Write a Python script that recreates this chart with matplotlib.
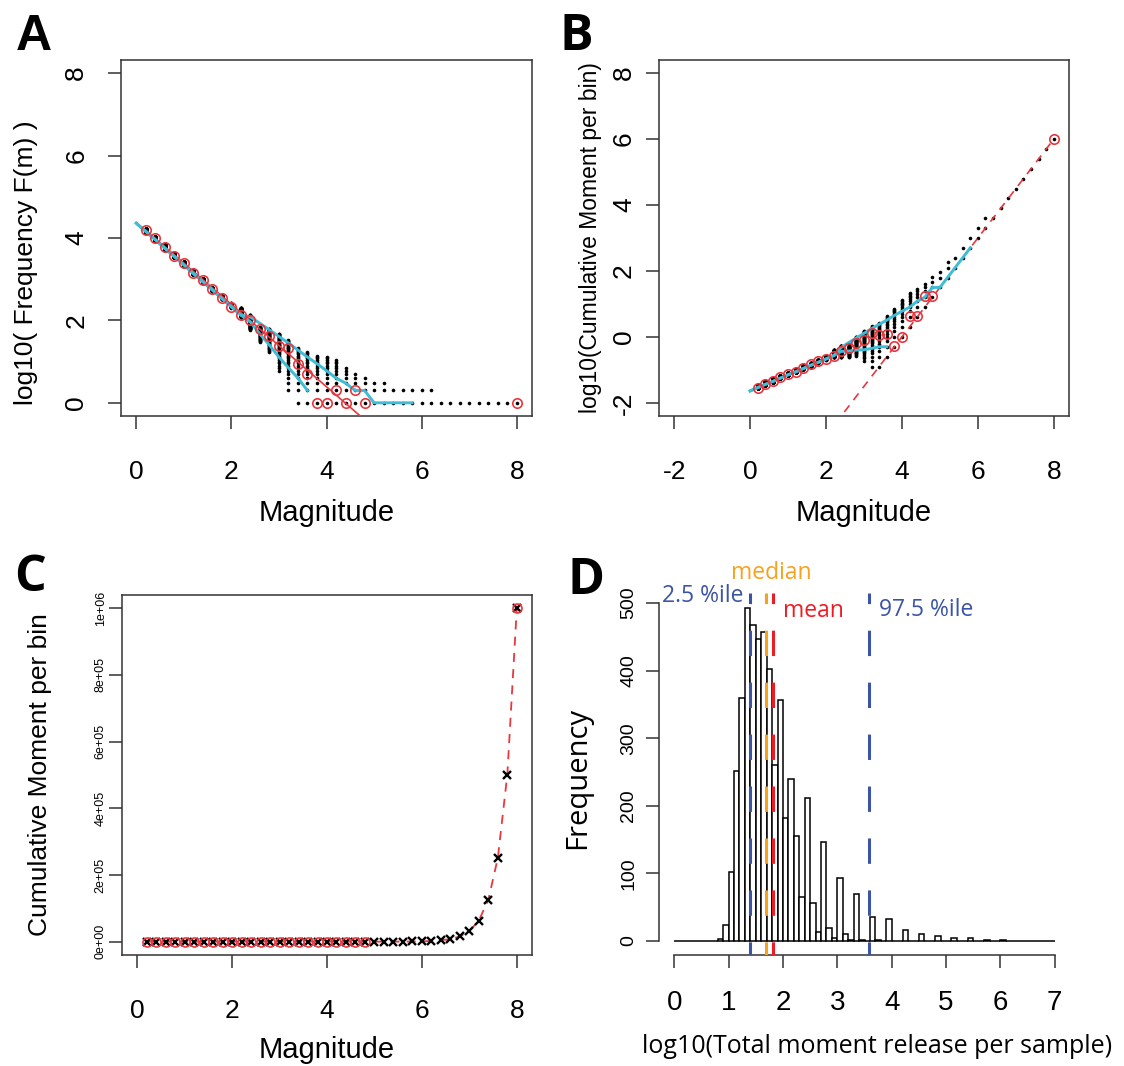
import numpy as np
import matplotlib
matplotlib.use("Agg")
import matplotlib.pyplot as plt

plt.rcParams['font.family'] = ['Liberation Sans', 'DejaVu Sans']
plt.rcParams['axes.unicode_minus'] = False

W, H = 1124, 1066

# ---------------- data ----------------
# observed magnitude bins (red circles), panels A/B/C
obs_mag = [0.2, 0.4, 0.6, 0.8, 1.0, 1.2, 1.4, 1.6, 1.8, 2.0, 2.2, 2.4,
           2.6, 2.8, 3.0, 3.2, 3.4, 3.6, 3.8, 4.0, 4.2, 4.4, 4.6, 4.8, 8.0]
obs_logfreq = [4.19, 3.99, 3.77, 3.57, 3.39, 3.16, 2.97, 2.77, 2.55, 2.33, 2.12, 2.00,
               1.78, 1.62, 1.38, 1.34, 0.95, 0.70, 0.0, 0.0, 0.30, 0.0, 0.30, 0.0, 0.0]
obs_logmoment = [-1.56, -1.44, -1.33, -1.22, -1.13, -1.05, -0.93, -0.83, -0.73, -0.67, -0.57, -0.44,
                 -0.34, -0.19, -0.09, 0.11, 0.06, 0.09, -0.29, 0.01, 0.62, 0.62, 1.23, 1.23, 6.0]

# simulated catalogues: range of counts seen in each magnitude bin (black dots)
sim_mag = [0.2, 0.4, 0.6, 0.8, 1.0, 1.2, 1.4, 1.6, 1.8, 2.0, 2.2, 2.4, 2.6, 2.8,
           3.0, 3.2, 3.4, 3.6, 3.8, 4.0, 4.2, 4.4, 4.6, 4.8, 5.0, 5.2, 5.4, 5.6,
           5.8, 6.0, 6.2, 6.4, 6.6, 6.8, 7.0, 7.2, 7.4, 7.6, 7.8, 8.0]
sim_cmin = [14200, 8900, 5500, 3460, 2140, 1350, 850, 525, 330, 205, 120, 60, 30, 17,
            6, 2, 1, 1, 1, 1, 1, 1, 1, 1, 1, 1, 1, 1,
            1, 1, 1, 1, 1, 1, 1, 1, 1, 1, 1, 1]
sim_cmax = [17000, 10700, 6600, 4170, 2570, 1620, 1020, 630, 400, 260, 200, 135, 69, 63,
            48, 33, 21, 17, 14, 13, 11, 7, 5, 4, 3, 3, 2, 2,
            2, 2, 2, 1, 1, 1, 1, 1, 1, 1, 1, 1]

# fitted lines (red)
fitA_mag = [0.2, 8.0]
fitA_y = [4.19, -3.61]
fitB_mag = [2.0, 8.0]
fitB_y = [-3.0, 6.0]

# 2.5 / 97.5 % envelopes (cyan)
envA_lo_mag = [0.0, 0.2, 0.4, 0.6, 0.8, 1.0, 1.2, 1.4, 1.6, 1.8, 2.0, 2.2,
               2.4, 2.6, 2.8, 3.0, 3.2, 3.4, 3.6]
envA_lo = [4.36, 4.16, 3.96, 3.75, 3.55, 3.35, 3.14, 2.94, 2.74, 2.53, 2.33, 2.13,
           1.96, 1.67, 1.40, 1.11, 0.85, 0.60, 0.30]
envA_hi_mag = [0.0, 0.2, 0.4, 0.6, 0.8, 1.0, 1.2, 1.4, 1.6, 1.8, 2.0, 2.2,
               2.4, 2.6, 2.8, 3.0, 3.2, 3.4, 3.6, 3.8, 4.0, 4.2, 4.4, 4.6,
               4.8, 5.0, 5.2, 5.4, 5.6, 5.8]
envA_hi = [4.36, 4.16, 3.96, 3.75, 3.55, 3.35, 3.14, 2.94, 2.74, 2.53, 2.33, 2.13,
           2.08, 1.93, 1.77, 1.61, 1.45, 1.28, 1.11, 0.95, 0.78, 0.60, 0.48, 0.30,
           0.30, 0.0, 0.0, 0.0, 0.0, 0.0]
envB_lo = [-1.64, -1.54, -1.44, -1.35, -1.25, -1.15, -1.06, -0.96, -0.86, -0.77, -0.67, -0.57,
           -0.44, -0.43, -0.40, -0.39, -0.35, -0.30, -0.30]
envB_hi = [-1.64, -1.54, -1.44, -1.35, -1.25, -1.15, -1.06, -0.96, -0.86, -0.77, -0.67, -0.57,
           -0.32, -0.17, -0.03, 0.11, 0.25, 0.38, 0.51, 0.65, 0.78, 0.90, 1.08, 1.20,
           1.50, 1.50, 1.80, 2.10, 2.40, 2.70]

# panel C: moment of one event per bin (black x)
C_mag = sim_mag
C_moment = [0, 0, 0, 0, 0, 0, 0, 0, 0, 0, 0, 0, 0, 0,
            0, 0, 0, 0, 0, 0, 0, 0, 0, 16, 32, 63, 126, 251,
            501, 1000, 1995, 3981, 7943, 15849, 31623, 63096, 125893, 251189, 501187, 1000000]

# panel D: histogram of log10 total moment, bins of 0.1 from 0 to 7
hist_left = np.round(np.arange(0, 7, 0.1), 1)
hist_counts = [0, 0, 0, 0, 0, 0, 0, 0, 3, 23,
               102, 251, 359, 492, 467, 447, 457, 402, 260, 357,
               182, 240, 155, 65, 212, 56, 13, 147, 19, 4,
               93, 11, 1, 70, 2, 0, 36, 1, 0, 32,
               0, 0, 16, 0, 0, 11, 0, 0, 7, 0,
               0, 5, 0, 0, 4, 0, 0, 1, 0, 0,
               1, 0, 0, 0, 0, 0, 0, 0, 0, 0]
stat_names = ['2.5 %ile', 'median', 'mean', '97.5 %ile']
stat_values = [1.40, 1.685, 1.82, 3.59]

# ---------------- styling ----------------
RED = '#e8373f'
CYAN = '#3fbcd6'
BLUE = '#3b54a4'
ORANGE = '#f7a21e'
MEANRED = '#ed1c24'
BOX = '#333333'


def add_axes_px(fig, left, top, right, bottom):
    return fig.add_axes([left / W, 1 - bottom / H, (right - left) / W, (bottom - top) / H])


def r_style(ax, xpad, ypad, size=19):
    for s in ax.spines.values():
        s.set_color(BOX)
        s.set_linewidth(1.1)
    ax.tick_params(direction='out', length=9.5, width=1.1, color=BOX, labelsize=size)
    ax.tick_params(axis='x', pad=xpad)
    ax.tick_params(axis='y', pad=ypad, labelrotation=90)
    for lab in ax.get_yticklabels():
        lab.set_va('center')


def sim_points(moment=False):
    xs, ys = [], []
    for m, c0, c1 in zip(sim_mag, sim_cmin, sim_cmax):
        counts = np.arange(c0, c1 + 1)
        vals = np.log10(counts)
        if moment:
            vals = np.log10(counts * 10 ** (1.5 * m - 6))
        xs.append(np.full(len(counts), m))
        ys.append(vals)
    return np.concatenate(xs), np.concatenate(ys)


fig = plt.figure(figsize=(W / 100, H / 100), dpi=100)

# ---------------- A ----------------
axA = add_axes_px(fig, 121, 60, 532, 416)
sx, sy = sim_points()
axA.plot(sx, sy, 'o', color='black', ms=2.6, mew=0, zorder=2)
axA.plot(fitA_mag, fitA_y, '-', color=RED, lw=1.2, zorder=3)
axA.plot(envA_lo_mag, envA_lo, '-', color=CYAN, lw=2.1, zorder=4)
axA.plot(envA_hi_mag, envA_hi, '-', color=CYAN, lw=2.1, zorder=4)
axA.plot(obs_mag, obs_logfreq, 'o', ms=6.8, mfc='none', mec=RED, mew=1.2, zorder=5)
axA.set_xlim(-0.32, 8.32)
axA.set_ylim(-0.32, 8.32)
axA.set_xticks([0, 2, 4, 6, 8])
axA.set_yticks([0, 2, 4, 6, 8])
r_style(axA, 22, 14)
axA.set_xlabel('Magnitude', fontsize=21, va='center')
axA.xaxis.set_label_coords(0.5, -0.273)
axA.set_ylabel('log10( Frequency F(m) )', fontsize=19, va='center')
axA.yaxis.set_label_coords(-0.231, 0.43)

# ---------------- B ----------------
axB = add_axes_px(fig, 659, 60, 1069, 416)
sx, sy = sim_points(moment=True)
axB.plot(sx, sy, 'o', color='black', ms=2.6, mew=0, zorder=2)
axB.plot(fitB_mag, fitB_y, '--', color=RED, lw=1.2, dashes=(5, 4), zorder=3)
axB.plot(envA_lo_mag, envB_lo, '-', color=CYAN, lw=2.1, zorder=4)
axB.plot(envA_hi_mag, envB_hi, '-', color=CYAN, lw=2.1, zorder=4)
axB.plot(obs_mag, obs_logmoment, 'o', ms=6.8, mfc='none', mec=RED, mew=1.2, zorder=5)
axB.set_xlim(-2.4, 8.4)
axB.set_ylim(-2.4, 8.4)
axB.set_xticks([-2, 0, 2, 4, 6, 8])
axB.set_yticks([-2, 0, 2, 4, 6, 8])
r_style(axB, 22, 7)
axB.set_xlabel('Magnitude', fontsize=21, va='center')
axB.xaxis.set_label_coords(0.5, -0.273)
axB.set_ylabel('log10(Cumulative Moment per bin)', fontsize=16.5, va='center')
axB.yaxis.set_label_coords(-0.168, 0.50)

# ---------------- C ----------------
axC = add_axes_px(fig, 122, 595, 532, 955)
axC.plot(C_mag, C_moment, '--', color=RED, lw=1.3, dashes=(5, 4), zorder=2)
axC.plot(C_mag, C_moment, 'x', color='black', ms=6, mew=1.7, zorder=3)
axC.plot(obs_mag, 10 ** np.array(obs_logmoment), 'o', ms=6.5, mfc='none', mec=RED, mew=1.2, zorder=4)
axC.set_xlim(-0.32, 8.32)
axC.set_ylim(-4e4, 1.04e6)
axC.set_xticks([0, 2, 4, 6, 8])
axC.set_yticks([0, 2e5, 4e5, 6e5, 8e5, 1e6])
axC.set_yticklabels(['0e+00', '2e+05', '4e+05', '6e+05', '8e+05', '1e+06'])
r_style(axC, 22, 1.5)
axC.tick_params(axis='y', labelsize=9)
axC.set_xlabel('Magnitude', fontsize=21, va='center')
axC.xaxis.set_label_coords(0.5, -0.264)
axC.set_ylabel('Cumulative Moment per bin', fontsize=19, va='center')
axC.yaxis.set_label_coords(-0.2, 0.5)

# ---------------- D ----------------
axD = add_axes_px(fig, 659, 593, 1070, 955)
axD.bar(hist_left, hist_counts, width=0.1, align='edge', color='white',
        edgecolor='black', linewidth=1.1, zorder=2)
dash_colors = [BLUE, ORANGE, MEANRED, BLUE]
for v, c in zip(stat_values, dash_colors):
    axD.axvline(v, color=c, lw=2.2, linestyle=(4, (8.3, 8.7)), zorder=3)
axD.set_xlim(-0.28, 7.28)
axD.set_ylim(-20.7, 514.8)
axD.set_xticks(range(8))
axD.set_yticks([0, 100, 200, 300, 400, 500])
for s in ['top', 'right']:
    axD.spines[s].set_visible(False)
axD.spines['bottom'].set_bounds(0, 7)
axD.spines['left'].set_bounds(0, 500)
for s in ['bottom', 'left']:
    axD.spines[s].set_color(BOX)
    axD.spines[s].set_linewidth(1.1)
axD.tick_params(direction='out', length=9.5, width=1.1, color=BOX)
axD.tick_params(axis='x', labelsize=20, pad=16)
axD.tick_params(axis='y', labelsize=14, pad=6, labelrotation=90)
for lab in axD.get_yticklabels():
    lab.set_va('center')
axD.set_xlabel('log10(Total moment release per sample)', fontsize=18,
               family=['Open Sans', 'DejaVu Sans'], va='center')
axD.xaxis.set_label_coords(0.53, -0.254)
axD.set_ylabel('Frequency', fontsize=21, family=['Open Sans', 'DejaVu Sans'], va='center')
axD.yaxis.set_label_coords(-0.197, 0.489)

lab_pos = [(0.53, 510), (1.78, 544), (2.56, 488), (4.63, 490)]
for name, (lx, ly), c in zip(stat_names, lab_pos, dash_colors[:2] + [MEANRED, BLUE]):
    axD.text(lx, ly, name, color=c, fontsize=16.5, family=['Open Sans', 'DejaVu Sans'],
             ha='center', va='center', clip_on=False)

# ---------------- panel letters ----------------
for letter, lx, ly, fam in [('A', 16, 50, ['Liberation Sans Narrow', 'Liberation Sans']),
                            ('B', 560, 50, ['Open Sans', 'Liberation Sans']),
                            ('C', 14, 591, ['Open Sans', 'Liberation Sans']),
                            ('D', 568, 594, ['Open Sans', 'Liberation Sans'])]:
    fig.text(lx / W, 1 - ly / H, letter, fontsize=36, fontweight='bold',
             family=fam, ha='left', va='baseline')

fig.savefig('out.png', dpi=100)
